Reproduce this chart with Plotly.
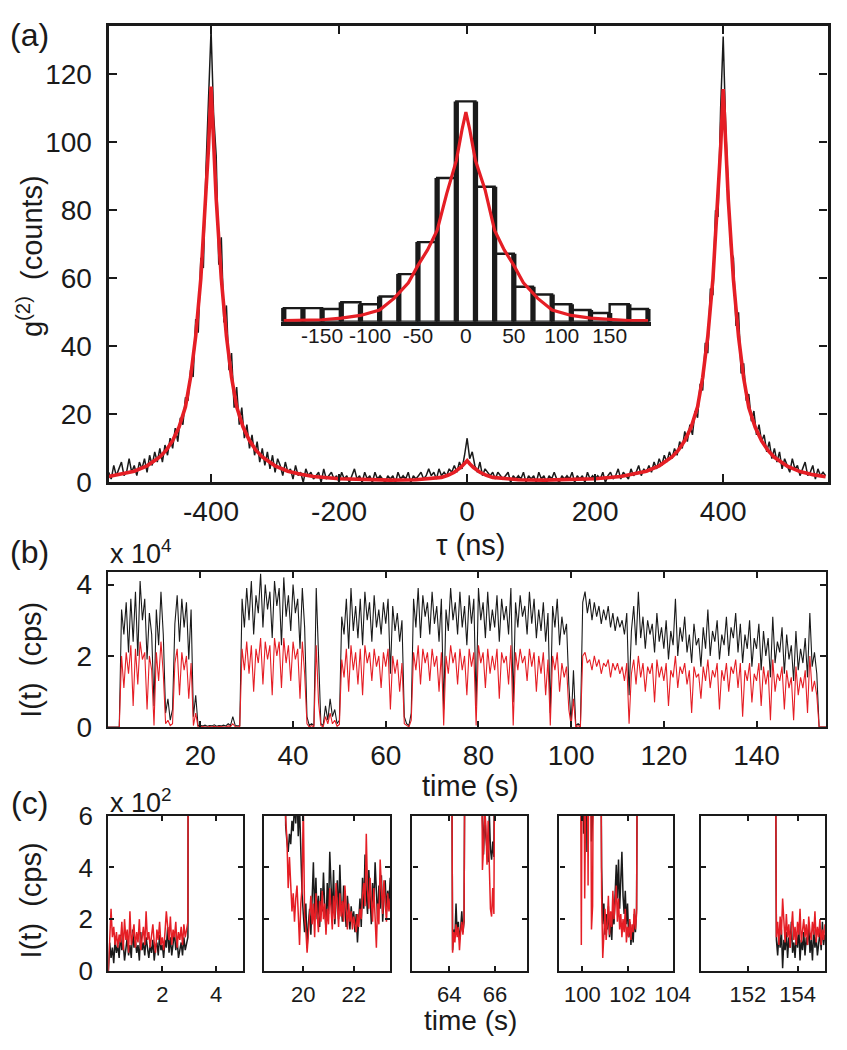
import numpy as np
import plotly.graph_objects as go

W, H = 847, 1050
FONT = "Liberation Sans, Arial, Helvetica, sans-serif"
BLACK = "#1a1a1a"
RED = "#e51e25"

# ---------------- panel (a): g2 histogram (counts), tau in ns ----------------
g2_tau_start = -560
g2_tau_step = 4
g2_counts = [
    3, 1, 5, 2, 4, 6, 2, 3, 7, 3, 5,
    2, 6, 4, 7, 3, 8, 5, 9, 6, 10,
    6, 11, 8, 13, 10, 16, 12, 19, 17, 25,
    24, 33, 31, 48, 44, 66, 63, 92, 112, 133,
    108, 96, 64, 72, 47, 52, 33, 38, 22, 28,
    17, 22, 13, 17, 10, 14, 8, 12, 6, 10,
    5, 9, 4, 8, 3, 7, 5, 2, 6, 3,
    4, 1, 5, 2, 3, 0, 4, 2, 3, 1,
    2, 3, 0, 4, 1, 2, 3, 1, 2, 0,
    3, 1, 2, 0, 2, 4, 1, 2, 0, 3,
    1, 2, 0, 3, 1, 2, 1, 0, 2, 1,
    2, 0, 3, 1, 2, 1, 3, 0, 2, 1,
    2, 3, 1, 2, 4, 2, 3, 1, 4, 2,
    3, 2, 4, 3, 5, 3, 6, 4, 8, 13,
    7, 9, 5, 3, 6, 2, 4, 3, 2, 3,
    1, 3, 2, 1, 2, 3, 0, 2, 1, 2,
    1, 3, 0, 2, 1, 2, 0, 3, 1, 2,
    0, 2, 1, 3, 1, 0, 2, 1, 2, 1,
    3, 0, 2, 1, 2, 0, 3, 1, 2, 1,
    2, 1, 3, 0, 2, 3, 1, 2, 4, 1,
    3, 2, 1, 4, 2, 3, 5, 2, 4, 3,
    5, 3, 6, 4, 7, 5, 8, 6, 9, 7,
    10, 8, 12, 10, 15, 12, 17, 14, 21, 19,
    29, 27, 41, 38, 57, 55, 80, 78, 110, 131,
    104, 86, 68, 66, 46, 50, 32, 35, 24, 26,
    18, 21, 14, 17, 12, 14, 9, 12, 7, 10,
    6, 9, 4, 7, 5, 3, 7, 4, 5, 2,
    4, 6, 2, 3, 5, 1, 4, 2, 3, 2,
]

fit_tau = [-560, -540, -520, -500, -480, -470, -460, -450, -440, -432, -424, -416,
           -408, -404, -400, -396, -392, -384, -376, -368, -360, -350, -340, -330,
           -320, -300, -280, -260, -240, -200, -160, -120, -80, -60, -40, -30, -20,
           -10, -4, 0, 4, 10, 20, 30, 40, 60, 80, 120, 160, 200, 240, 260, 280, 300,
           320, 330, 340, 350, 360, 368, 376, 384, 392, 396, 400, 404, 408, 416, 424,
           432, 440, 450, 460, 470, 480, 500, 520, 540, 560]
fit_g2 = [1.75, 2.4, 3.3, 4.9, 7.5, 9.5, 12.3, 16.3, 22.2, 30.9, 43.0, 59.9,
          83.3, 98.3, 116.3, 98.3, 83.3, 59.9, 43.0, 30.9, 22.2, 16.3, 12.3, 9.5,
          7.5, 4.9, 3.3, 2.4, 1.75, 1.1, 0.8, 0.7, 0.8, 1.05, 1.5, 2.1, 3.0,
          4.4, 5.5, 6.4, 5.5, 4.4, 3.0, 2.1, 1.5, 1.05, 0.8, 0.7, 0.8, 1.1, 1.75, 2.4, 3.3, 4.9,
          7.5, 9.5, 12.3, 16.3, 22.2, 30.9, 43.0, 59.9, 83.3, 98.3, 115.6, 98.0, 83.0, 59.6, 42.8,
          30.7, 22.0, 16.2, 12.2, 9.4, 7.4, 4.8, 3.2, 2.3, 1.7]
g2_xticks = [-400, -200, 0, 200, 400]
g2_yticks = [0, 20, 40, 60, 80, 100, 120]

# inset: central peak histogram (20 ns bins)
inset_centers = [-180, -160, -140, -120, -100, -80, -60, -40, -20, 0,
                 20, 40, 60, 80, 100, 120, 140, 160, 180]
inset_counts = [7, 7, 6.5, 10, 9, 13, 24.5, 41, 74, 113.5,
                69.5, 35, 18, 14, 9, 6, 4.5, 9, 6.5]
inset_bin = 20
inset_fit_tau = [-190, -170, -150, -130, -110, -90, -75, -60, -50, -40, -30, -20, -10, -4, 0,
                 4, 10, 20, 30, 40, 50, 60, 75, 90, 110, 130, 150, 170, 190]
inset_fit = [0.5, 0.6, 1.0, 1.8, 3.2, 6, 12, 20, 29, 37, 47, 66, 83, 99, 108,
             99, 83, 68, 47, 37, 29, 20, 12, 6, 3.2, 1.8, 1.0, 0.6, 0.5]
inset_ticks = [-150, -100, -50, 0, 50, 100, 150]

# ---------------- panel (b): intensity trace (x 1e4 cps), 0.5 s steps ----------------
b_step = 0.5
b_black = [
    0.01, 0.01, 0.01, 0.01, 0.01, 0.01, 3.3, 2.6, 3.5, 2.1,
    3.6, 2.4, 3.8, 2.0, 4.1, 3.0, 3.6, 1.9, 3.2, 2.6,
    0.6, 3.3, 2.3, 3.8, 2.6, 0.4, 0.8, 0.2, 0.5, 2.9,
    3.7, 2.4, 3.6, 2.8, 3.5, 1.9, 3.3, 0.3, 0.9, 0.05,
    0.05, 0.04, 0.06, 0.03, 0.05, 0.04, 0.07, 0.03, 0.05, 0.04,
    0.06, 0.04, 0.1, 0.05, 0.3, 0.06, 0.04, 0.05, 3.6, 2.8,
    3.9, 3.0, 4.1, 2.6, 3.7, 3.2, 4.3, 2.8, 4.0, 3.3,
    3.8, 2.5, 4.1, 3.4, 3.9, 2.3, 4.2, 3.1, 3.7, 2.7,
    4.0, 3.2, 3.6, 2.2, 3.9, 2.8, 0.3, 0.05, 0.1, 0.05,
    3.9, 1.8, 0.1, 0.05, 0.6, 0.2, 0.8, 0.3, 0.5, 0.1,
    0.2, 3.1, 2.6, 3.6, 2.2, 3.9, 2.7, 3.4, 2.5, 3.6,
    2.3, 3.8, 3.0, 3.5, 2.4, 3.7, 2.8, 3.3, 2.6, 3.5,
    2.9, 3.6, 1.5, 3.4, 2.7, 3.2, 2.4, 3.0, 0.3, 0.1,
    0.05, 0.4, 3.6, 2.8, 3.9, 2.5, 3.7, 3.1, 3.5, 2.6,
    3.8, 2.9, 3.4, 2.4, 3.6, 0.5, 3.3, 2.7, 3.9, 3.0,
    3.5, 2.6, 3.8, 2.8, 3.4, 2.3, 3.7, 2.9, 3.6, 0.6,
    3.9, 3.0, 3.5, 2.5, 3.8, 2.7, 3.3, 2.8, 3.7, 2.4,
    3.6, 3.0, 3.4, 2.6, 3.9, 0.7, 3.5, 2.8, 3.7, 3.1,
    3.4, 2.6, 3.8, 2.9, 3.6, 2.5, 3.3, 2.7, 3.5, 2.4,
    3.2, 0.4, 3.4, 2.8, 3.6, 2.3, 3.1, 2.6, 2.9, 1.2,
    0.1, 1.6, 0.05, 0.1, 0.05, 3.5, 3.8, 3.2, 3.6, 3.0,
    3.5, 3.1, 3.4, 2.9, 3.3, 3.0, 3.4, 2.8, 3.2, 2.7,
    3.1, 2.8, 3.0, 2.6, 3.2, 0.9, 2.7, 3.4, 2.3, 3.8,
    2.5, 3.1, 2.2, 3.0, 2.6, 2.9, 2.1, 3.2, 2.4, 2.8,
    2.2, 3.0, 1.9, 2.7, 2.3, 3.6, 2.0, 2.8, 2.4, 3.1,
    2.1, 2.6, 1.8, 2.9, 2.3, 2.5, 1.7, 2.8, 2.2, 3.3,
    2.0, 2.7, 2.4, 3.0, 1.9, 2.6, 2.3, 3.1, 2.0, 2.8,
    2.5, 3.2, 2.1, 2.9, 1.8, 2.6, 2.2, 3.0, 1.7, 2.5,
    2.2, 2.9, 1.6, 2.7, 2.0, 2.5, 1.4, 3.1, 1.8, 2.4,
    2.1, 2.8, 1.5, 2.6, 1.9, 2.3, 1.3, 2.7, 1.6, 2.2,
    1.8, 2.5, 1.4, 3.2, 1.7, 2.1, 1.5, 0.01, 0.01, 0.01,
    0.01,
]
b_red = [
    0, 0, 0, 0, 0, 0, 2.0, 1.1, 2.1, 1.5,
    2.3, 0.6, 2.2, 1.2, 2.4, 1.9, 2.1, 0.5, 2.0, 1.6,
    0.05, 2.1, 1.3, 2.4, 1.5, 0.1, 0.2, 0.05, 0.1, 1.8,
    2.2, 0.9, 2.1, 1.6, 2.0, 0.8, 1.8, 0.05, 0.4, 0.01,
    0.02, 0.01, 0.02, 0.01, 0.02, 0.01, 0.03, 0.01, 0.02, 0.01,
    0.02, 0.01, 0.04, 0.02, 0.1, 0.02, 0.01, 0.02, 2.2, 1.6,
    2.4, 1.5, 2.3, 1.0, 2.2, 1.8, 2.5, 1.2, 2.4, 1.9,
    2.3, 0.9, 2.5, 2.0, 2.4, 1.1, 2.5, 1.8, 2.3, 1.3,
    2.4, 1.9, 2.2, 0.8, 2.4, 1.5, 0.1, 0.01, 0.05, 0.01,
    2.3, 0.7, 0.05, 0.01, 0.3, 0.1, 0.4, 0.1, 0.2, 0.03,
    0.08, 1.9, 1.4, 2.2, 1.0, 2.3, 1.6, 2.1, 1.2, 2.2,
    0.9, 2.3, 1.8, 2.1, 1.3, 2.2, 1.7, 2.0, 1.1, 2.1,
    1.7, 2.2, 0.5, 2.0, 1.5, 1.9, 1.0, 1.8, 0.1, 0.05,
    0.01, 0.2, 2.1, 1.6, 2.3, 1.2, 2.2, 1.8, 2.1, 1.3,
    2.2, 1.7, 2.0, 1.0, 2.1, 0.05, 2.0, 1.5, 2.3, 1.8,
    2.1, 1.2, 2.2, 1.6, 2.0, 0.9, 2.2, 1.7, 2.1, 0.05,
    2.3, 1.8, 2.1, 1.1, 2.2, 1.5, 2.0, 1.6, 2.2, 0.8,
    2.1, 1.8, 2.0, 1.2, 2.3, 0.05, 2.1, 1.6, 2.2, 1.8,
    2.0, 1.3, 2.2, 1.7, 2.1, 1.0, 2.0, 1.5, 2.1, 0.9,
    1.9, 0.05, 2.0, 1.6, 2.1, 1.0, 1.8, 1.4, 1.7, 0.5,
    0.05, 0.8, 0.01, 0.05, 0.01, 2.0, 2.1, 1.8, 1.9, 1.6,
    2.0, 1.7, 1.9, 1.5, 1.8, 1.7, 1.9, 1.4, 1.8, 1.6,
    1.8, 1.5, 1.7, 1.3, 1.8, 0.1, 1.5, 1.9, 1.2, 2.0,
    1.4, 1.8, 1.0, 1.7, 1.5, 1.8, 0.7, 1.9, 1.4, 1.7,
    1.3, 1.8, 0.6, 1.6, 1.4, 2.0, 1.1, 1.7, 1.5, 1.8,
    1.2, 1.6, 0.4, 1.7, 1.4, 1.5, 0.8, 1.7, 1.3, 1.9,
    1.1, 1.6, 1.4, 1.8, 0.5, 1.6, 1.3, 1.8, 1.0, 1.7,
    1.5, 1.9, 1.1, 1.8, 0.3, 1.6, 1.3, 1.8, 0.7, 1.5,
    1.3, 1.8, 0.6, 1.7, 1.2, 1.6, 0.2, 1.9, 1.0, 1.5,
    1.3, 1.7, 0.5, 1.6, 1.1, 1.4, 0.2, 1.7, 0.9, 1.4,
    1.1, 1.6, 0.4, 2.0, 1.0, 1.3, 0.9, 0.01, 0.01, 0.01,
    0.01,
]
b_xticks = [20, 40, 60, 80, 100, 120, 140]
b_yticks = [0, 2, 4]

# ---------------- panel (c): zooms on dark periods (x 1e2 cps), 0.05 s steps ----------------
c_step = 0.05
c1_segments = [(0.0,
    [0.0, 1.1, 0.5, 0.9, 0.3, 1.2, 0.7, 1.0, 0.5, 1.4,
     0.8, 1.1, 0.4, 0.9, 1.3, 0.6, 1.0, 0.5, 1.6, 0.9,
     1.2, 0.7, 1.0, 0.4, 1.5, 0.8, 1.1, 0.6, 1.3, 0.9,
     0.5, 1.0, 0.7, 1.2, 0.4, 0.9, 1.1, 0.6, 1.4, 0.8,
     1.0, 0.5, 1.2, 0.9, 1.7, 0.7, 1.3, 0.6, 1.0, 1.5,
     0.8, 1.2, 0.5, 0.9, 1.1, 0.6, 1.3, 0.8, 1.0, 1.3, 40],
    [0.0, 1.6, 2.4, 1.3, 1.7, 1.0, 1.5, 0.9, 1.4, 1.1,
     1.9, 0.8, 2.0, 1.2, 1.6, 0.7, 2.3, 1.0, 1.4, 1.8,
     0.9, 1.5, 1.1, 2.0, 0.8, 1.3, 1.7, 1.0, 2.3, 1.2,
     1.5, 0.9, 1.4, 1.8, 1.1, 0.7, 1.6, 1.2, 1.9, 1.0,
     1.3, 0.8, 1.5, 2.3, 1.7, 1.2, 2.1, 1.0, 1.6, 1.3,
     1.9, 0.9, 1.5, 1.2, 1.7, 1.0, 1.8, 1.3, 1.6, 1.9, 40])]
c2_segments = [(19.25,
    [12, 5.6, 5.0, 4.6, 5.3, 4.9, 5.8, 5.4, 6.5, 5.7, 6.8, 5.2, 6.4, 4.4, 3.0, 2.2,
     1.5, 2.6, 0.9, 1.8, 2.4, 1.4, 2.8, 4.2, 2.1, 3.6, 2.0, 2.9, 1.7, 3.2, 2.3,
     3.8, 2.5, 1.6, 3.4, 2.2, 4.6, 3.0, 2.1, 3.9, 1.8, 2.7, 3.5, 2.0, 4.1, 2.6,
     1.9, 3.3, 2.4, 1.7, 2.9, 2.1, 1.6, 2.5, 1.9, 2.3, 1.5, 2.2, 1.1, 2.0, 2.8,
     1.7, 3.6, 2.4, 4.5, 3.0, 2.2, 3.9, 2.6, 1.8, 3.4, 2.5, 4.2, 2.9, 2.0, 3.3,
     2.4, 3.7, 1.9, 2.8, 3.5, 2.3, 3.1, 2.6, 3.6],
    [12, 5.9, 5.1, 3.2, 4.4, 3.2, 2.3, 3.0, 1.9, 2.8, 3.3, 2.2, 1.0, 2.6, 3.2, 6.5,
     2.1, 1.6, 0.7, 1.4, 2.3, 2.9, 1.8, 2.6, 1.3, 3.0, 2.2, 1.5, 2.7, 1.9, 3.1,
     2.0, 2.6, 1.4, 2.4, 1.8, 3.2, 2.3, 1.6, 2.9, 2.0, 3.4, 2.5, 1.7, 3.0, 2.1,
     2.7, 1.9, 3.3, 2.2, 1.6, 2.6, 1.9, 2.3, 1.6, 2.1, 1.8, 1.5, 2.2, 1.7, 2.4,
     2.0, 2.9, 3.4, 2.5, 5.3, 3.1, 2.4, 3.6, 2.7, 1.9, 3.2, 2.3, 0.9, 2.6, 1.8,
     4.3, 2.9, 2.2, 3.5, 2.4, 1.9, 3.0, 2.3, 2.8])]
c3_segments = [(64.10,
    [12, 0.8, 1.6, 1.3, 2.6, 1.4, 1.9, 1.2, 1.6, 2.3, 1.5, 1.9, 12],
    [12, 0.7, 1.5, 1.1, 1.8, 1.3, 1.7, 0.8, 1.5, 1.9, 1.4, 2.0, 12]),
    (65.40,
    [12, 5.8, 4.5, 6.2, 5.2, 4.6, 4.2, 6.1, 4.7, 4.3, 5.0, 4.4, 12],
    [12, 3.9, 4.8, 6.3, 5.6, 4.1, 5.8, 3.5, 2.4, 2.1, 3.2, 2.2, 12])]
c4_segments = [(99.90,
    [12, 12, 12, 5.3, 12, 12, 4.6, 12, 12, 12, 5.0, 12, 12, 12, 12, 12, 12, 12, 12,
     4.0, 1.8, 2.6, 1.4, 2.2, 1.6, 2.5, 1.3, 2.0, 1.2, 2.4, 1.8, 3.0, 4.1, 2.8, 4.3,
     2.4, 3.6, 4.6, 2.9, 2.2, 3.1, 1.8, 2.6, 1.3, 1.9, 1.0, 1.6, 1.1, 2.2, 1.5, 2.4, 12],
    [12, 1.0, 12, 12, 2.8, 12, 12, 3.3, 12, 12, 1.6, 2.5, 12, 12, 12, 12, 12, 12, 12,
     3.0, 0.5, 1.4, 2.4, 1.2, 1.8, 2.9, 1.4, 2.3, 1.7, 3.1, 2.0, 2.6, 3.3, 1.9, 2.8,
     1.6, 2.2, 1.3, 2.0, 1.5, 2.4, 1.1, 1.7, 1.3, 2.0, 1.2, 1.8, 1.5, 2.4, 1.6, 2.2, 12])]
c5_segments = [(153.10,
    [12, 1.2, 0.6, 1.4, 0.9, 1.6, 0.1, 1.2, 0.8, 1.5, 0.5, 1.3, 0.9, 1.9, 0.7, 1.1,
     0.5, 1.4, 0.9, 1.7, 0.4, 1.2, 0.8, 1.5, 0.6, 1.3, 1.0, 1.8, 0.7, 1.2, 0.4, 1.6,
     0.9, 1.3, 0.6, 1.1, 1.5, 0.8, 1.9, 1.0, 1.4],
    [12, 1.3, 1.9, 1.0, 2.1, 1.4, 2.8, 1.6, 1.1, 2.2, 1.3, 1.8, 0.9, 1.6, 2.3, 1.2,
     1.7, 1.0, 1.9, 1.4, 2.4, 1.1, 1.6, 2.0, 1.3, 1.8, 1.0, 2.1, 1.5, 1.2, 1.9, 1.4,
     2.3, 1.1, 1.7, 1.3, 2.0, 1.0, 1.6, 1.2, 1.8])]
c_panels = [
    ([0, 5], [2, 4], c1_segments),
    ([18.45, 23.45], [20, 22], c2_segments),
    ([62.4, 67.4], [64, 66], c3_segments),
    ([98.98, 104.02], [100, 102, 104], c4_segments),
    ([150.1, 155.1], [152, 154], c5_segments),
]
c_yticks = [0, 2, 4, 6]


def px_x(v):
    return v / W


def px_y(v):
    return 1 - v / H


def labels(vals):
    return [str(v) for v in vals]   # plain hyphen minus, like the reference


fig = go.Figure()

# (a) main
tau = g2_tau_start + g2_tau_step * np.arange(len(g2_counts))
fig.add_trace(go.Scatter(x=tau, y=g2_counts, mode="lines",
                         line=dict(color=BLACK, width=1.5), xaxis="x", yaxis="y"))
fig.add_trace(go.Scatter(x=fit_tau, y=fit_g2, mode="lines",
                         line=dict(color=RED, width=3.6), xaxis="x", yaxis="y"))

# inset
fig.add_trace(go.Bar(x=inset_centers, y=inset_counts, width=inset_bin,
                     marker=dict(color="white", line=dict(color=BLACK, width=2.4)),
                     xaxis="x2", yaxis="y2"))
stripe_x, stripe_y = [], []
for c, v in zip(inset_centers, inset_counts):
    if c <= 0:
        stripe_x.append(c - inset_bin / 2)
        stripe_y.append(v)
    if c >= 0:
        stripe_x.append(c + inset_bin / 2)
        stripe_y.append(v)
fig.add_trace(go.Bar(x=stripe_x, y=stripe_y, width=5.5,
                     marker=dict(color=BLACK, line=dict(width=0)),
                     xaxis="x2", yaxis="y2"))
fig.add_trace(go.Scatter(x=inset_fit_tau, y=inset_fit, mode="lines",
                         line=dict(color=RED, width=3.2), xaxis="x2", yaxis="y2"))

# (b)
tb = b_step * np.arange(len(b_black))
fig.add_trace(go.Scatter(x=tb, y=b_black, mode="lines",
                         line=dict(color=BLACK, width=1.1), xaxis="x3", yaxis="y3"))
tbr = b_step * np.arange(len(b_red))
fig.add_trace(go.Scatter(x=tbr, y=b_red, mode="lines",
                         line=dict(color=RED, width=1.1), xaxis="x3", yaxis="y3"))

# (c)
for k, (xr, xt, segs) in enumerate(c_panels):
    ax = 4 + k
    for (t0, blk, red) in segs:
        tt = t0 + c_step * np.arange(len(blk))
        fig.add_trace(go.Scatter(x=tt, y=blk, mode="lines",
                                 line=dict(color=BLACK, width=1.5),
                                 xaxis=f"x{ax}", yaxis=f"y{ax}"))
    for (t0, blk, red) in segs:
        tt = t0 + c_step * np.arange(len(red))
        fig.add_trace(go.Scatter(x=tt, y=red, mode="lines",
                                 line=dict(color=RED, width=1.5),
                                 xaxis=f"x{ax}", yaxis=f"y{ax}"))


def frame(size, lw, tl, **kw):
    d = dict(showline=True, linecolor=BLACK, linewidth=lw, mirror="ticks",
             ticks="inside", ticklen=tl, tickwidth=max(1.5, lw * 0.7), tickcolor=BLACK,
             showgrid=False, zeroline=False, tickangle=0,
             tickfont=dict(family=FONT, size=size, color=BLACK))
    d.update(kw)
    return d


layout = dict(
    width=W, height=H, margin=dict(l=0, r=0, t=0, b=0),
    paper_bgcolor="white", plot_bgcolor="rgba(0,0,0,0)",
    showlegend=False, barmode="overlay",
    xaxis=frame(28, 3.2, 8, domain=[px_x(111), px_x(845.5)], range=[-560, 563],
                tickvals=g2_xticks, ticktext=labels(g2_xticks), anchor="y",
                ticklabelstandoff=2),
    yaxis=frame(28, 3.2, 8, domain=[px_y(481.7), px_y(11.7)], range=[0, 134],
                tickvals=g2_yticks, anchor="x", ticklabelstandoff=8),
    xaxis2=dict(domain=[px_x(287), px_x(665)], range=[-193, 193], anchor="y2",
                showline=True, linecolor=BLACK, linewidth=4, ticks="", showgrid=False,
                zeroline=False, tickvals=inset_ticks, ticktext=labels(inset_ticks),
                tickangle=0, ticklabelstandoff=-8,
                tickfont=dict(family=FONT, size=21, color=BLACK)),
    yaxis2=dict(domain=[px_y(316), px_y(76)], range=[0, 120], anchor="x2",
                visible=False),
    xaxis3=frame(28, 2.0, 6, domain=[px_x(110), px_x(844)], range=[0, 155],
                 tickvals=b_xticks, anchor="y3", ticklabelstandoff=2),
    yaxis3=frame(28, 2.0, 6, domain=[px_y(734), px_y(574)], range=[0, 4.35],
                 tickvals=b_yticks, anchor="x3", ticklabelstandoff=8),
)
c_dom = [(110.7, 248.5), (270, 398.7), (421.4, 538.6), (571.6, 687.7), (715.8, 842.8)]
for k, (xr, xt, segs) in enumerate(c_panels):
    ax = 4 + k
    layout[f"xaxis{ax}"] = frame(22, 2.4, 5, domain=[px_x(c_dom[k][0]), px_x(c_dom[k][1])],
                                 range=xr, tickvals=xt, anchor=f"y{ax}", ticklabelstandoff=2)
    layout[f"yaxis{ax}"] = frame(26, 2.4, 5, domain=[px_y(985), px_y(825)], range=[0, 6],
                                 tickvals=c_yticks, anchor=f"x{ax}",
                                 showticklabels=(k == 0), ticklabelstandoff=8)
fig.update_layout(**layout)


def ann(text, x, y, size=29, angle=0, xanchor="center"):
    fig.add_annotation(text=text, x=px_x(x), y=px_y(y), xref="paper", yref="paper",
                       showarrow=False, textangle=angle, xanchor=xanchor, yanchor="middle",
                       font=dict(family=FONT, size=size, color=BLACK))


ann("(a)", 30, 21, size=32)
ann("(b)", 30, 553, size=32)
ann("(c)", 30, 812, size=32)
ann("x 10<sup>4</sup>", 110, 553, size=27, xanchor="left")
ann("x 10<sup>2</sup>", 110, 810, size=27, xanchor="left")
ann("g<sup>(2)</sup>  (counts)", 30, 248, angle=-90)
ann("τ (ns)", 481, 546)
ann("I(t)  (cps)", 32, 664, angle=-90)
ann("time (s)", 481, 794)
ann("I(t)  (cps)", 32, 912, angle=-90)
ann("time (s)", 481, 1036, size=28)

fig.write_html("out.html", config={"displayModeBar": False},
               post_script="document.body.style.margin='0px';")
